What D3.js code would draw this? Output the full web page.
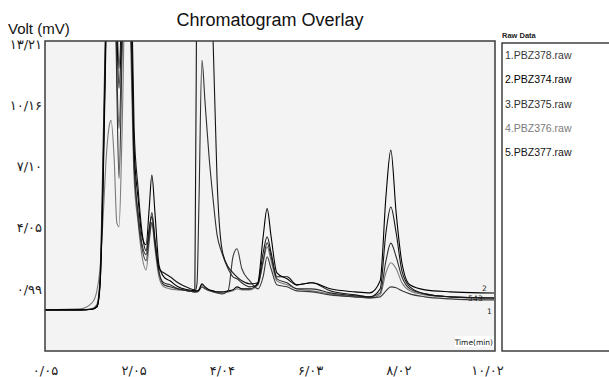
<!DOCTYPE html>
<html>
<head>
<meta charset="utf-8">
<script src="https://cdn.jsdelivr.net/npm/d3@7"></script>
<style>
  body { margin: 0; background: #fff; }
  svg { display: block; }
</style>
</head>
<body>
<div id="chart"></div>
<script>
// retention times (min), shared by all runs
var times = [0.05, 0.84, 1.11, 1.22, 1.29, 1.36, 1.43, 1.49, 1.54, 1.61,
  1.67, 1.72, 1.79, 1.88, 1.97, 2.06, 2.15, 2.24, 2.33, 2.40,
  2.46, 2.53, 2.62, 2.73, 2.87, 3.05, 3.28, 3.43, 3.48, 3.52,
  3.59, 3.66, 3.75, 3.84, 3.93, 4.04, 4.18, 4.29, 4.38, 4.49,
  4.67, 4.85, 4.97, 5.06, 5.15, 5.28, 5.51, 5.73, 6.07, 6.48,
  7.04, 7.38, 7.61, 7.74, 7.85, 7.97, 8.10, 8.28, 8.62, 9.19,
  9.86, 10.18];

// signal (mV) for each raw file
var run1 = [-0.05, -0.05, 0.0, 0.2, 1.5, 8, 16, 22, 24, 20,
  12, 9.0, 14, 22, 16, 7.5, 4.5, 3.0, 2.4, 3.5,
  4.3, 3.2, 1.8, 1.3, 1.2, 1.0, 0.9, 0.85, 0.85, 0.9,
  1.1, 1.0, 0.9, 0.85, 0.8, 0.75, 0.9, 2.6, 3.0, 2.0,
  1.4, 1.0, 1.6, 2.6, 2.0, 1.2, 1.1, 0.9, 0.85, 0.7,
  0.6, 0.55, 0.6, 0.9, 1.1, 1.05, 0.9, 0.75, 0.6, 0.5,
  0.45, 0.45];
var run2 = [-0.05, -0.05, -0.02, 0.1, 1.2, 6, 14, 20, 24, 21,
  14, 11, 15, 24, 18, 8, 5.5, 3.6, 3.2, 5.0,
  6.68, 4.8, 2.2, 1.6, 1.4, 1.1, 0.95, 0.9, 0.9, 0.95,
  1.25, 1.1, 0.95, 0.9, 0.85, 0.85, 0.9, 0.95, 1.1, 1.0,
  1.0, 1.3, 3.6, 5.0, 3.6, 1.8, 1.5, 1.2, 1.3, 1.0,
  0.85, 0.8, 1.4, 5.6, 7.92, 4.8, 2.3, 1.2, 0.95, 0.85,
  0.8, 0.79];
var run3 = [-0.05, -0.05, -0.02, 0.1, 1.3, 7, 15, 21, 23, 19,
  11, 6.5, 13, 21, 16, 7, 4.8, 3.2, 2.7, 3.8,
  4.8, 3.5, 1.9, 1.2, 1.1, 1.0, 0.9, 0.85, 1.3, 5.0,
  12.4, 10.3, 7.6, 5.5, 3.7, 2.8, 2.0, 1.6, 1.5, 1.3,
  1.1, 1.2, 2.4, 3.3, 2.6, 1.5, 1.3, 1.0, 1.0, 0.8,
  0.65, 0.6, 0.8, 2.4, 3.28, 2.6, 1.6, 1.0, 0.75, 0.6,
  0.55, 0.54];
var run4 = [-0.05, 0.0, 0.3, 0.9, 2.0, 4.5, 7.5, 9.0, 9.4, 7.5,
  4.3, 4.1, 9.0, 18, 14, 6.5, 4.3, 2.6, 1.94, 3.3,
  4.3, 3.0, 1.6, 1.1, 1.0, 0.95, 0.9, 0.85, 0.85, 0.9,
  1.2, 1.05, 0.95, 0.9, 0.85, 0.8, 0.85, 0.9, 1.0, 0.95,
  0.95, 1.2, 2.3, 3.1, 2.4, 1.4, 1.2, 1.0, 0.9, 0.75,
  0.6, 0.55, 0.7, 1.8, 2.3, 2.0, 1.3, 0.9, 0.7, 0.6,
  0.55, 0.54];
var run5 = [-0.05, -0.05, -0.02, 0.1, 1.1, 6.5, 15, 22, 25, 22,
  15, 12, 16, 25, 20, 9, 6, 3.8, 2.9, 4.0,
  4.6, 3.4, 2.0, 1.8, 1.6, 1.3, 1.05, 0.95, 20, 30,
  32, 28, 18, 13.5, 6.5, 3.0, 2.1, 1.8, 1.6, 1.4,
  1.25, 1.3, 2.8, 3.6, 2.8, 1.6, 1.6, 1.2, 1.3, 0.9,
  0.7, 0.6, 1.0, 3.8, 5.08, 3.8, 1.9, 1.1, 0.75, 0.6,
  0.55, 0.54];

var runNames = ['1.PBZ378.raw', '2.PBZ374.raw', '3.PBZ375.raw', '4.PBZ376.raw', '5.PBZ377.raw'];
var runColors = ['#3a3a3a', '#000000', '#2e2e2e', '#7a7a7a', '#151515'];

var yTicks = [0.99, 4.05, 7.10, 10.16, 13.21];
var yTickLabels = ['۰/۹۹', '۴/۰۵', '۷/۱۰', '۱۰/۱۶', '۱۳/۲۱'];
var xTicks = [0.05, 2.05, 4.04, 6.03, 8.02, 10.02];
var xTickLabels = ['۰/۰۵', '۲/۰۵', '۴/۰۴', '۶/۰۳', '۸/۰۲', '۱۰/۰۲'];

var svg_width = 609;
var svg_height = 377;
var plot = {left: 45, top: 41, right: 495, bottom: 351};

var main_svg = d3.select('#chart')
  .append('svg')
  .attr('width', svg_width)
  .attr('height', svg_height);

var x = d3.scaleLinear().domain([0.05, 10.2]).range([plot.left, plot.right]);
var y = d3.scaleLinear().domain([-2.1, 13.36]).range([plot.bottom, plot.top]);

// plot background
main_svg.append('rect')
  .attr('x', plot.left)
  .attr('y', plot.top)
  .attr('width', plot.right - plot.left)
  .attr('height', plot.bottom - plot.top)
  .attr('fill', '#f3f3f3');

main_svg.append('clipPath')
  .attr('id', 'plot-clip')
  .append('rect')
  .attr('x', plot.left)
  .attr('y', plot.top)
  .attr('width', plot.right - plot.left)
  .attr('height', plot.bottom - plot.top);

var runs = [run1, run2, run3, run4, run5];
var line = d3.line()
  .x(function(d, i) { return x(times[i]); })
  .y(function(d) { return y(d); })
  .curve(d3.curveMonotoneX);

// draw lighter runs first so black ones sit on top
var drawOrder = [3, 0, 2, 4, 1];
main_svg.append('g')
  .attr('clip-path', 'url(#plot-clip)')
  .selectAll('path')
  .data(drawOrder)
  .enter()
  .append('path')
  .attr('d', function(k) { return line(runs[k]); })
  .attr('fill', 'none')
  .attr('stroke', function(k) { return runColors[k]; })
  .attr('stroke-width', 1.1);

// plot frame
main_svg.append('rect')
  .attr('x', plot.left)
  .attr('y', plot.top)
  .attr('width', plot.right - plot.left)
  .attr('height', plot.bottom - plot.top)
  .attr('fill', 'none')
  .attr('stroke', '#3c3c3c')
  .attr('stroke-width', 1.5);

// axes (labels only)
var yAxis = d3.axisLeft(y)
  .tickValues(yTicks)
  .tickSize(0)
  .tickPadding(3)
  .tickFormat(function(d, i) { return yTickLabels[i]; });
var gy = main_svg.append('g')
  .attr('transform', 'translate(' + plot.left + ',0)')
  .call(yAxis);
gy.select('.domain').remove();
gy.selectAll('text')
  .attr('font-family', 'DejaVu Sans, sans-serif')
  .attr('font-size', 13)
  .attr('fill', '#222');

var xAxis = d3.axisBottom(x)
  .tickValues(xTicks)
  .tickSize(0)
  .tickPadding(15)
  .tickFormat(function(d, i) { return xTickLabels[i]; });
var gx = main_svg.append('g')
  .attr('transform', 'translate(0,' + plot.bottom + ')')
  .call(xAxis);
gx.select('.domain').remove();
gx.selectAll('text')
  .attr('font-family', 'DejaVu Sans, sans-serif')
  .attr('font-size', 13)
  .attr('fill', '#222');

// titles
main_svg.append('text')
  .attr('x', 270)
  .attr('y', 26)
  .attr('text-anchor', 'middle')
  .attr('font-family', 'Liberation Sans, Arial, sans-serif')
  .attr('font-size', 18)
  .attr('fill', '#111')
  .text('Chromatogram Overlay');

main_svg.append('text')
  .attr('x', 8)
  .attr('y', 34)
  .attr('font-family', 'Liberation Sans, Arial, sans-serif')
  .attr('font-size', 15)
  .attr('fill', '#111')
  .text('Volt (mV)');

// Time(min) tag in the corner
main_svg.append('rect')
  .attr('x', 455)
  .attr('y', 336)
  .attr('width', 39)
  .attr('height', 11)
  .attr('fill', '#fff');
main_svg.append('text')
  .attr('x', 493)
  .attr('y', 345)
  .attr('text-anchor', 'end')
  .attr('font-family', 'DejaVu Sans, sans-serif')
  .attr('font-size', 7.5)
  .attr('fill', '#111')
  .text('Time(min)');

// run numbers at the right end of the traces
var endLabels = [
  {k: 1, dx: -12, dy: -2, t: '2'},
  {k: 4, dx: -26, dy: 3, t: '5'},
  {k: 3, dx: -21, dy: 3, t: '4'},
  {k: 2, dx: -16, dy: 3, t: '3'},
  {k: 0, dx: -7, dy: 14, t: '1'}
];
var last = times.length - 1;
main_svg.selectAll('text.endlab')
  .data(endLabels)
  .enter()
  .append('text')
  .attr('class', 'endlab')
  .attr('x', function(d) { return x(times[last]) + d.dx; })
  .attr('y', function(d) { return y(runs[d.k][last]) + d.dy; })
  .attr('font-family', 'DejaVu Sans, sans-serif')
  .attr('font-size', 7.5)
  .attr('fill', '#222')
  .text(function(d) { return d.t; });

// legend
main_svg.append('rect')
  .attr('x', 502)
  .attr('y', 43)
  .attr('width', 120)
  .attr('height', 308)
  .attr('fill', '#fff')
  .attr('stroke', '#222')
  .attr('stroke-width', 1.3);

main_svg.append('text')
  .attr('x', 502)
  .attr('y', 38)
  .attr('font-family', 'Liberation Sans, Arial, sans-serif')
  .attr('font-size', 7.5)
  .attr('font-weight', 'bold')
  .attr('fill', '#222')
  .text('Raw Data');

main_svg.selectAll('text.leg')
  .data(runNames)
  .enter()
  .append('text')
  .attr('class', 'leg')
  .attr('x', 505)
  .attr('y', function(d, i) { return 59 + i * 24.3; })
  .attr('font-family', 'Liberation Sans, Arial, sans-serif')
  .attr('font-size', 10.5)
  .attr('fill', function(d, i) { return runColors[i]; })
  .text(function(d) { return d; });
</script>
</body>
</html>
